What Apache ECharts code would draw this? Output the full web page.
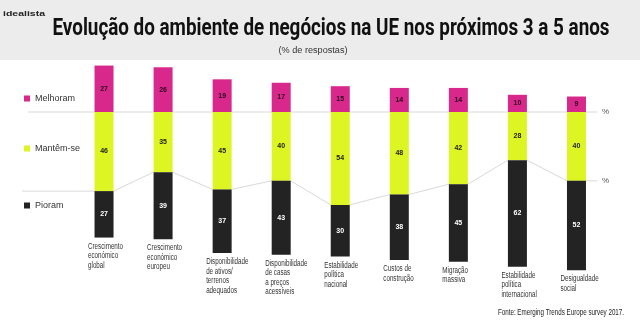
<!DOCTYPE html>
<html><head><meta charset="utf-8">
<script src="https://cdn.jsdelivr.net/npm/echarts@6/dist/echarts.min.js"></script>
<style>html,body{margin:0;padding:0;background:#fff}#c{width:640px;height:325px}</style>
</head><body><div id="c"></div>
<script>
const categories = [
  'Crescimento\neconómico\nglobal',
  'Crescimento\neconómico\neuropeu',
  'Disponibilidade\nde ativos/\nterrenos\nadequados',
  'Disponibilidade\nde casas\na preços\nacessíveis',
  'Estabilidade\npolítica\nnacional',
  'Custos de\nconstrução',
  'Migração\nmassiva',
  'Estabilidade\npolítica\ninternacional',
  'Desigualdade\nsocial'
];
const melhoram = [27, 26, 19, 17, 15, 14, 14, 10, 9];
const mantem   = [46, 35, 45, 40, 54, 48, 42, 28, 40];
const pioram   = [27, 39, 37, 43, 30, 38, 45, 62, 52];
const seriesNames = ['Melhoram', 'Mantêm-se', 'Pioram'];
const titleText = 'Evolução do ambiente de negócios na UE nos próximos 3 a 5 anos';
const subtitleText = '(% de respostas)';
const sourceText = 'Fonte: Emerging Trends Europe survey 2017.';
const logoText = 'idealista';

const FONT = "'Liberation Sans', Arial, sans-serif";
const TITLE_FONT = "bold 24px Roboto, 'Liberation Sans', sans-serif";
const CAT_FONT = "8.5px 'Liberation Sans', Arial, sans-serif";
const LOGO_FONT = "bold 8px 'Liberation Sans', Arial, sans-serif";
const colors = ['#d8288b', '#ddf623', '#232323'];
const X_MIN = -1.388, X_MAX = 8.348, HALF = 0.161, LINE_START = -1.287;

const mctx = document.createElement('canvas').getContext('2d');
function fitScale(text, font, target) { mctx.font = font; return target / mctx.measureText(text).width; }
const catScale = fitScale('Crescimento', CAT_FONT, 35);

const idx = categories.map((_, i) => i);
const lowerLine = [[X_MIN, mantem[0]]];
idx.forEach(i => { lowerLine.push([i - HALF, mantem[i]]); lowerLine.push([i + HALF, mantem[i]]); });
lowerLine.push([X_MAX, mantem[mantem.length - 1]]);

const valLabel = (color) => ({
  show: true, position: 'inside', color: color, fontSize: 7, fontWeight: 'bold', fontFamily: FONT,
  formatter: p => Math.abs(p.value)
});

const gridTop = 60.4, gridH = 223.6;
const chart = echarts.init(document.getElementById('c'), null, {renderer: 'canvas'});
chart.setOption({
  backgroundColor: '#ffffff',
  animation: false,
  grid: [
    {left: 74.5, right: 34, top: gridTop, height: gridH},
    {left: 22, right: 43, top: gridTop, height: gridH}
  ],
  xAxis: [
    {type: 'category', gridIndex: 0, data: categories, show: false},
    {type: 'value', gridIndex: 1, min: X_MIN, max: X_MAX, show: false}
  ],
  yAxis: [
    {type: 'value', gridIndex: 0, inverse: true, min: -30, max: 100, show: false},
    {type: 'value', gridIndex: 1, inverse: true, min: -30, max: 100, show: false}
  ],
  legend: seriesNames.map((n, k) => ({
    data: [n], left: 24, top: [94, 144, 201][k], orient: 'vertical', padding: 0,
    icon: 'rect', itemWidth: 6, itemHeight: 6, itemGap: 0, selectedMode: false,
    textStyle: {fontSize: 9, color: '#333', fontFamily: FONT}
  })),
  graphic: [
    {type: 'rect', shape: {x: 0, y: 0, width: 640, height: 60}, style: {fill: '#ececec'}, z: -10, silent: true},
    {type: 'text', x: 3, y: 14, scaleX: fitScale(logoText, LOGO_FONT, 42),
     style: {text: logoText, font: LOGO_FONT, fill: '#222', textVerticalAlign: 'middle'}},
    {type: 'text', x: 331, y: 29, scaleX: fitScale(titleText, TITLE_FONT, 557),
     style: {text: titleText, font: TITLE_FONT, fill: '#111', textAlign: 'center', textVerticalAlign: 'middle'}},
    {type: 'text', x: 313, y: 51, scaleX: fitScale(subtitleText, "8.5px " + FONT, 69),
     style: {text: subtitleText, font: "8.5px " + FONT, fill: '#333', textAlign: 'center', textVerticalAlign: 'middle'}},
    {type: 'text', x: 624, y: 313, scaleX: fitScale(sourceText, "9px " + FONT, 126),
     style: {text: sourceText, font: "9px " + FONT, fill: '#222', textAlign: 'right', textVerticalAlign: 'middle'}}
  ],
  series: [
    {name: 'Gray top', type: 'line', xAxisIndex: 1, yAxisIndex: 1, data: [[LINE_START, 0], [X_MAX, 0]],
     symbol: 'none', silent: true, z: 1, lineStyle: {color: '#d9d9d9', width: 1},
     endLabel: {show: true, formatter: '%', fontSize: 8, color: '#555', fontFamily: FONT, distance: 5}},
    {name: 'Gray low', type: 'line', xAxisIndex: 1, yAxisIndex: 1, data: lowerLine,
     symbol: 'none', silent: true, z: 1, lineStyle: {color: '#d9d9d9', width: 1},
     endLabel: {show: true, formatter: '%', fontSize: 8, color: '#555', fontFamily: FONT, distance: 5}},
    {name: seriesNames[0], type: 'bar', stack: 'a', barWidth: 19, z: 3, itemStyle: {color: colors[0]},
     data: melhoram.map(v => -v), label: valLabel('#2a0a1c')},
    {name: seriesNames[1], type: 'bar', stack: 'a', barWidth: 19, z: 3, itemStyle: {color: colors[1]},
     data: mantem, label: valLabel('#222')},
    {name: seriesNames[2], type: 'bar', stack: 'a', barWidth: 19, z: 3, itemStyle: {color: colors[2]},
     data: pioram, label: valLabel('#fff')},
    {name: 'cat', type: 'custom', xAxisIndex: 0, yAxisIndex: 0, silent: true, z: 5,
     data: idx.map(i => [i, mantem[i] + pioram[i]]),
     renderItem: (params, api) => {
       const p = api.coord([api.value(0), api.value(1)]);
       return {type: 'text', x: p[0] - 16, y: p[1] + 4, scaleX: catScale,
               style: {text: categories[params.dataIndex], font: CAT_FONT, fill: '#333',
                       verticalAlign: 'top', lineHeight: 9.5}};
     }}
  ]
});
</script></body></html>
